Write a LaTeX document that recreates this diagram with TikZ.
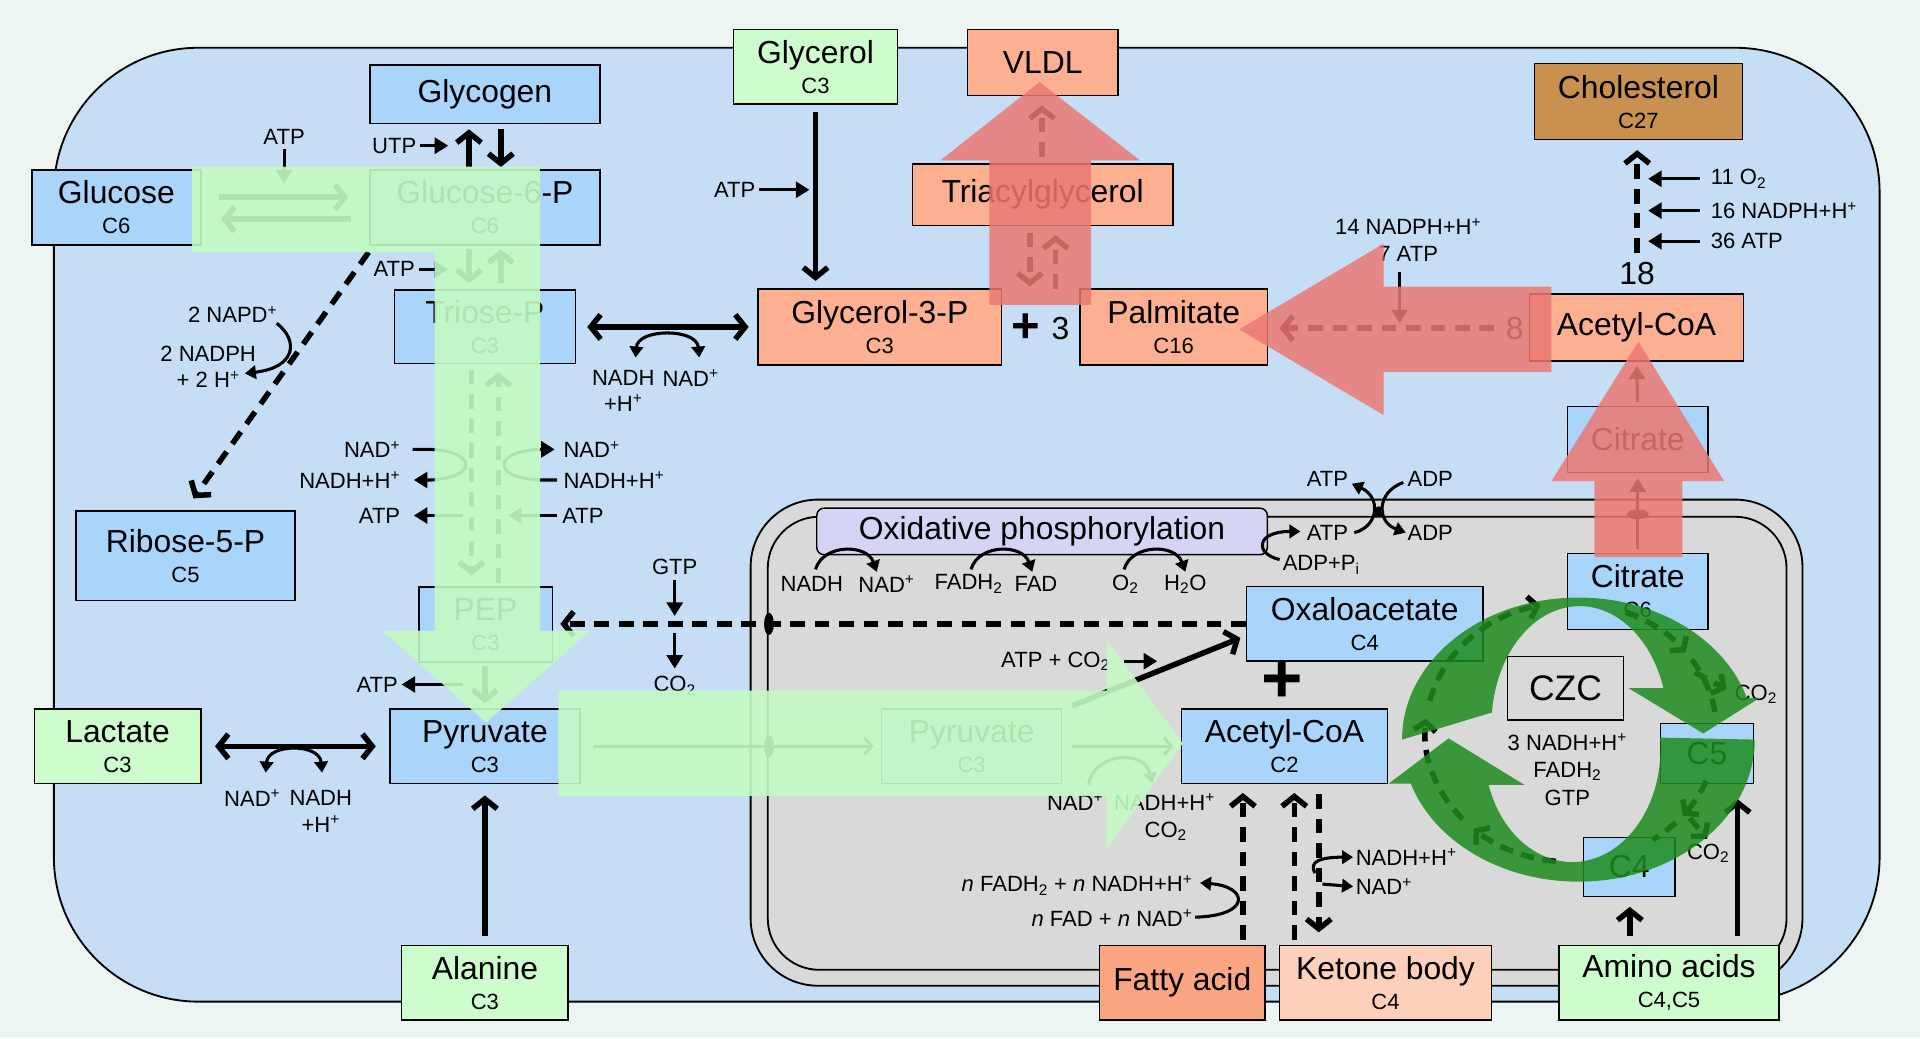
\documentclass[tikz,border=0pt]{standalone}
\usepackage{fontspec}
\setmainfont{Liberation Sans}
\usetikzlibrary{arrows.meta}
\definecolor{bgc}{RGB}{237,245,243}
\definecolor{cellc}{RGB}{197,221,245}
\definecolor{boxb}{RGB}{170,213,250}
\definecolor{boxg}{RGB}{205,252,205}
\definecolor{boxs}{RGB}{252,175,145}
\definecolor{boxf}{RGB}{250,165,130}
\definecolor{boxk}{RGB}{253,208,188}
\definecolor{boxc}{RGB}{200,145,80}
\definecolor{mitoc}{RGB}{217,217,217}
\definecolor{oxc}{RGB}{214,212,245}
\definecolor{ovg}{RGB}{196,250,196}
\definecolor{ovr}{RGB}{235,120,115}
\definecolor{tcag}{RGB}{30,140,30}
\newcommand\cn[1]{{\fontsize{18}{20}\selectfont #1}}
\newcommand\sps[1]{\textsuperscript{#1}}
\newcommand\sbs[1]{\textsubscript{#1}}
\tikzset{
  bx/.style={draw, line width=1.2pt, inner sep=0pt, align=center, font=\fontsize{26}{27}\selectfont},
  lbl/.style={inner sep=0pt, font=\fontsize{18}{20}\selectfont, align=center},
  tk/.style={line width=4.5pt, -{Straight Barb[length=8pt,width=20pt]}},
  tkk/.style={line width=4.5pt, {Straight Barb[length=8pt,width=20pt]}-{Straight Barb[length=8pt,width=20pt]}},
  md/.style={line width=2.5pt, -{Triangle[length=11pt,width=13pt]}},
  mdl/.style={line width=2.5pt},
  dsh/.style={dash pattern=on 12pt off 8pt},
  cv/.style={line width=2.5pt, -{Triangle[length=9pt,width=11pt]}},
  cyca/.style={line width=4.5pt, dash pattern=on 11pt off 7pt, -{Straight Barb[length=7pt,width=18pt]}},
  cycn/.style={line width=4.5pt, dash pattern=on 11pt off 7pt},
  ovgs/.style={fill=ovg, fill opacity=0.9},
  ovrs/.style={fill=ovr, fill opacity=0.85},
  tcas/.style={fill=tcag, fill opacity=0.85}
}
\newcommand\tcaseg[3][cyca]{\draw[#1] ([shift={(1283,598)}]#2:119 and 106) arc[start angle=#2,end angle=#3,x radius=119,y radius=106];}
\begin{document}
\begin{tikzpicture}[x=1pt,y=-1pt]
\useasboundingbox (0,0) rectangle (1568,848);
\fill[bgc] (0,0) rectangle (1568,848);
% cell and mitochondrion
\draw[fill=cellc,line width=1.5pt,rounded corners=118pt] (44,39) rectangle (1535,818);
\draw[fill=mitoc,line width=1.5pt,rounded corners=55pt] (613,408) rectangle (1472,805);
\draw[line width=1.5pt,rounded corners=42pt] (627,422) rectangle (1459,792);

% boxes
\node[bx,fill=boxb,minimum width=188pt,minimum height=48pt] (glycogen) at (396,77) {Glycogen};
\node[bx,fill=boxb,minimum width=138pt,minimum height=61pt] (glucose) at (95,169.5) {Glucose\\[-2.5pt]\cn{C6}};
\node[bx,fill=boxb,minimum width=188pt,minimum height=61pt] (g6p) at (396,169.5) {Glucose-6-P\\[-2.5pt]\cn{C6}};
\node[bx,fill=boxb,minimum width=148pt,minimum height=60pt] (triose) at (396,267) {Triose-P\\[-2.5pt]\cn{C3}};
\node[bx,fill=boxb,minimum width=179pt,minimum height=73pt] (ribose) at (151.5,454) {Ribose-5-P\\[-2.5pt]\cn{C5}};
\node[bx,fill=boxb,minimum width=109pt,minimum height=61pt] (pep) at (396.5,510) {PEP\\[-2.5pt]\cn{C3}};
\node[bx,fill=boxb,minimum width=155pt,minimum height=61pt] (pyr) at (396,609.5) {Pyruvate\\[-2.5pt]\cn{C3}};
\node[bx,fill=boxg,minimum width=136pt,minimum height=61pt] (lactate) at (96,609.5) {Lactate\\[-2.5pt]\cn{C3}};
\node[bx,fill=boxg,minimum width=136pt,minimum height=61pt] (alanine) at (396,802.5) {Alanine\\[-2.5pt]\cn{C3}};
\node[bx,fill=boxg,minimum width=134pt,minimum height=61pt] (glycerol) at (666,54.5) {Glycerol\\[-2.5pt]\cn{C3}};
\node[bx,fill=boxs,minimum width=123pt,minimum height=54pt] (vldl) at (851.5,51) {VLDL};
\node[bx,fill=boxs,minimum width=213pt,minimum height=50pt] (tag) at (851.5,159) {Triacylglycerol};
\node[bx,fill=boxs,minimum width=199pt,minimum height=62pt] (g3p) at (718.5,267) {Glycerol-3-P\\[-2.5pt]\cn{C3}};
\node[bx,fill=boxs,minimum width=153pt,minimum height=62pt] (palm) at (958.5,267) {Palmitate\\[-2.5pt]\cn{C16}};
\node[bx,fill=boxc,minimum width=170pt,minimum height=62pt] (chol) at (1338,83) {Cholesterol\\[-2.5pt]\cn{C27}};
\node[bx,fill=boxs,minimum width=175pt,minimum height=55pt] (accoa1) at (1336.5,267.5) {Acetyl-CoA};
\node[bx,fill=boxb,minimum width=115pt,minimum height=54pt] (cit1) at (1337.5,359) {Citrate};
\node[bx,fill=boxb,minimum width=115pt,minimum height=62pt] (cit2) at (1337.5,483) {Citrate\\[-2.5pt]\cn{C6}};
\node[bx,fill=oxc,rounded corners=6pt,minimum width=368pt,minimum height=38pt] (oxphos) at (851,434) {Oxidative phosphorylation};
\node[bx,fill=boxb,minimum width=193pt,minimum height=61pt] (oaa) at (1114.5,509.5) {Oxaloacetate\\[-2.5pt]\cn{C4}};
\node[bx,fill=boxb,minimum width=168pt,minimum height=61pt] (accoa2) at (1049,609.5) {Acetyl-CoA\\[-2.5pt]\cn{C2}};
\node[bx,fill=boxb,minimum width=147pt,minimum height=61pt] (pyr2) at (793.5,609.5) {Pyruvate\\[-2.5pt]\cn{C3}};
\node[bx,fill=mitoc,minimum width=95pt,minimum height=52pt,font=\fontsize{29}{30}\selectfont] (czc) at (1278.5,562) {CZC};
\node[bx,fill=boxb,minimum width=76pt,minimum height=49pt] (c5) at (1394,615.5) {C5};
\node[bx,fill=boxb,minimum width=75pt,minimum height=48pt] (c4) at (1330.5,708) {C4};
\node[bx,fill=boxf,minimum width=135pt,minimum height=61pt] (fa) at (965.5,802.5) {Fatty acid};
\node[bx,fill=boxk,minimum width=173pt,minimum height=61pt] (ketone) at (1131.5,802.5) {Ketone body\\[-2.5pt]\cn{C4}};
\node[bx,fill=boxg,minimum width=180pt,minimum height=61pt] (amino) at (1363,802.5) {Amino acids\\[-2.5pt]\cn{C4,C5}};

% glycogen
\draw[tk,shorten <=2pt,shorten >=4pt] (g6p.north -| 383,0) -- (glycogen.south -| 383,0);
\draw[tk,shorten <=4pt,shorten >=2pt] (glycogen.south -| 409,0) -- (g6p.north -| 409,0);
\node[lbl] (utp) at (322,119) {UTP};
\draw[md,shorten <=3pt] (utp.east) -- (366,119);
% glucose <-> G6P
\node[lbl] (atpA) at (232,112) {ATP};
\draw[md,shorten <=3pt] (atpA.south) -- (232,150);
\draw[tk,shorten <=14pt,shorten >=17pt] (glucose.east |- 0,161) -- (g6p.west |- 0,161);
\draw[tk,shorten <=15pt,shorten >=16pt] (g6p.west |- 0,179) -- (glucose.east |- 0,179);
% G6P -> triose
\node[lbl] (atpB) at (322,220) {ATP};
\draw[md,shorten <=3pt] (atpB.east) -- (366,220);
\draw[tk,shorten <=3pt,shorten >=5pt] (g6p.south -| 383,0) -- (triose.north -| 383,0);
\draw[tk,shorten <=5pt,shorten >=3pt] (triose.north -| 409,0) -- (g6p.south -| 409,0);
% ribose
\draw[tk,dsh] (301,206) -- (158,407);
\node[lbl] (napd) at (190,257) {2 NAPD\sps{+}};
\node[lbl] (nadph2) at (170,289) {2 NADPH};
\node[lbl] (h2) at (170,310) {+ 2 H\sps{+}};
\draw[cv] (226,264) .. controls (244,278) and (242,300) .. (200,305);
% triose <-> G3P
\draw[tkk,shorten <=9pt,shorten >=7pt] (triose) -- (g3p);
\draw[line width=2.5pt,{Triangle[length=9pt,width=11pt]}-{Triangle[length=9pt,width=11pt]}] (519,292) .. controls (521,268) and (569,268) .. (571,292);
\node[lbl] (tnadh) at (509,309) {NADH};
\node[lbl] (th) at (509,329) {+H\sps{+}};
\node[lbl] (tnad) at (564,309) {NAD\sps{+}};
% triose -> PEP (glycolysis/gluconeogenesis)
\draw[tk,dsh] (385,302) -- (385,470);
\draw[tk,dsh] (407,476) -- (407,304);
\node[lbl,anchor=east] (nadL) at (327,367) {NAD\sps{+}};
\node[lbl,anchor=east] (nadhL) at (327,392) {NADH+H\sps{+}};
\node[lbl,anchor=east] (atpL) at (327,421) {ATP};
\draw[md] (337,367) -- (352,367) .. controls (390,369) and (390,390) .. (352,392) -- (338,392);
\draw[md] (378,421) -- (338,421);
\node[lbl,anchor=west] (nadR) at (460,367) {NAD\sps{+}};
\node[lbl,anchor=west] (nadhR) at (460,392) {NADH+H\sps{+}};
\node[lbl,anchor=west] (atpR) at (459,421) {ATP};
\draw[md] (455,392) -- (440,392) .. controls (402,390) and (402,369) .. (440,367) -- (453,367);
\draw[md] (455,421) -- (415,421);
% PEP -> pyruvate
\draw[tk,shorten <=3pt,shorten >=4pt] (pep.south -| 396,0) -- (pyr.north -| 396,0);
\node[lbl] (atpP) at (308,559) {ATP};
\draw[md,shorten >=3pt] (378,559) -- (atpP.east);
% OAA -> PEP
\draw[tk,dsh,shorten >=6pt] (oaa.west) -- (pep.east |- oaa.west);
\node[lbl] (gtp) at (551,463) {GTP};
\draw[md] (551,474) -- (551,503);
\node[lbl] (co2a) at (551,560) {CO\sbs{2}};
\draw[md] (551,517) -- (551,546);
\fill (628,509.5) ellipse[x radius=4, y radius=9];
% lactate
\draw[tkk,shorten <=11pt,shorten >=11pt] (lactate) -- (pyr);
\draw[line width=2.5pt,{Triangle[length=9pt,width=11pt]}-{Triangle[length=9pt,width=11pt]}] (217,631) .. controls (219,607) and (261,607) .. (263,631);
\node[lbl] (lnad) at (206,652) {NAD\sps{+}};
\node[lbl] (lnadh) at (262,652) {NADH};
\node[lbl] (lh) at (262,673) {+H\sps{+}};
% alanine
\draw[tk,shorten <=7pt,shorten >=9pt] (alanine) -- (pyr);
% glycerol
\draw[tk,shorten <=6pt,shorten >=6pt] (glycerol.south) -- (g3p.north -| glycerol.south);
\node[lbl] (atpG) at (600,155) {ATP};
\draw[md,shorten <=3pt] (atpG.east) -- (661,155);
\node[font=\fontsize{40}{40}\selectfont\bfseries] (plus1) at (838,268) {+};
\node[font=\fontsize{26}{27}\selectfont] (three) at (866,268) {3};
% pyruvate into mitochondrion
\draw[line width=2.5pt,-{Straight Barb[length=6pt,width=14pt]},shorten <=10pt,shorten >=6pt] (pyr) -- (pyr2);
\fill (628,609.5) ellipse[x radius=4, y radius=9];
\draw[line width=2.5pt,-{Straight Barb[length=6pt,width=14pt]},shorten <=8pt,shorten >=6pt] (pyr2) -- (accoa2);
\draw[cv] (889,641) .. controls (893,614) and (935,612) .. (941,640);
\node[lbl] (pnad) at (878,655) {NAD\sps{+}};
\node[lbl] (pnadh) at (951,655) {NADH+H\sps{+}};
\node[lbl] (pco2) at (952,679) {CO\sbs{2}};
\draw[tk] (pyr2.north east) ++(8,-2) -- (1013,521);
\node[lbl] (atpco2) at (862,540) {ATP + CO\sbs{2}};
\draw[md] (918,540) -- (945,540);
\node[font=\fontsize{58}{58}\selectfont\bfseries] (plus2) at (1047,557) {+};
% oxidative phosphorylation
\node[lbl] (onadh) at (663,477) {NADH};
\node[lbl] (onad) at (724,477) {NAD\sps{+}};
\node[lbl] (ofadh) at (791,477) {FADH\sbs{2}};
\node[lbl] (ofad) at (846,477) {FAD};
\node[lbl] (oo2) at (919,477) {O\sbs{2}};
\node[lbl] (oh2o) at (968,477) {H\sbs{2}O};
\draw[cv] (666,465) .. controls (672,444) and (708,444) .. (716,467);
\draw[cv] (793,465) .. controls (799,444) and (835,444) .. (843,467);
\draw[cv] (918,465) .. controls (924,444) and (960,444) .. (968,467);
% ATP/ADP
\node[lbl] (atpu) at (1084,391) {ATP};
\node[lbl] (adpu) at (1168,391) {ADP};
\node[lbl] (atpd) at (1084,435) {ATP};
\node[lbl] (adpd) at (1168,435) {ADP};
\node[lbl] (adppi) at (1079,461) {ADP+P\sbs{i}};
\draw[cv] (1106,435) .. controls (1126,430) and (1128,406) .. (1104,395);
\draw[cv] (1146,394) .. controls (1124,402) and (1124,426) .. (1148,435);
\fill (1126,418) circle (4.5);
\draw[cv] (1045,457) .. controls (1024,452) and (1026,434) .. (1062,434);
% fatty acid, ketone body
\draw[tk,dsh,shorten <=4pt,shorten >=7pt] (fa.north -| 1015,0) -- (accoa2.south -| 1015,0);
\node[lbl,anchor=east] (nfadh) at (974,723) {\textit{n} FADH\sbs{2} + \textit{n} NADH+H\sps{+}};
\node[lbl,anchor=east] (nfad) at (974,750) {\textit{n} FAD + \textit{n} NAD\sps{+}};
\draw[cv] (976,749) .. controls (1022,748) and (1020,724) .. (980,721);
\draw[tk,dsh,shorten <=4pt,shorten >=7pt] (ketone.north -| 1057,0) -- (accoa2.south -| 1057,0);
\draw[tk,dsh,shorten <=8pt,shorten >=10pt] (accoa2.south -| 1077,0) -- (ketone.north -| 1077,0);
\node[lbl,anchor=west] (knadh) at (1107,700) {NADH+H\sps{+}};
\node[lbl,anchor=west] (knad) at (1107,724) {NAD\sps{+}};
\draw[cv] (1074,713) .. controls (1068,703) and (1080,700) .. (1105,700);
\draw[cv] (1080,722) -- (1105,724);
% amino acids
\draw[tk,shorten <=7pt,shorten >=8pt] (amino.north -| 1331,0) -- (c4.south -| 1331,0);
\draw[tk,shorten <=7pt,shorten >=12pt] (amino.north -| 1419,0) -- (c5.south -| 1419,0);
% cholesterol
\node[font=\fontsize{26}{27}\selectfont] (n18) at (1337,223) {18};
\draw[tk,dsh,shorten <=4pt,shorten >=8pt] (n18.north) -- (chol.south -| n18.north);
\node[lbl,anchor=west] (o2) at (1397,146) {11 O\sbs{2}};
\node[lbl,anchor=west] (nadph16) at (1397,172) {16 NADPH+H\sps{+}};
\node[lbl,anchor=west] (atp36) at (1397,197) {36 ATP};
\draw[md] (1388,146) -- (1346,146);
\draw[md] (1388,172) -- (1346,172);
\draw[md] (1388,197) -- (1346,197);
% fatty acid synthesis (under red arrow)
\node[font=\fontsize{26}{27}\selectfont] (n8) at (1237,268) {8};
\draw[tk,dsh] (n8.west) ++(-6,0) -- (1045,268);
\node[lbl] (n14) at (1150,185) {14 NADPH+H\sps{+}};
\node[lbl] (atp7) at (1150,207) {7 ATP};
\draw[md] (1143,222) -- (1143,264);
% TAG and VLDL (under red arrow)
\draw[tk,dsh] (841,190) -- (841,234);
\draw[tk,dsh] (862,236) -- (862,192);
\draw[tk,dsh] (851,128) -- (851,86);
% citrate export (under red arrow)
\draw[md,shorten <=3pt,shorten >=4pt] (cit2.north) -- (cit1.south);
\fill (1337.5,420) ellipse[x radius=9, y radius=4];
\draw[md,shorten <=3pt,shorten >=3pt] (cit1.north) -- (accoa1.south);
% TCA cycle labels and dashed arrows
\node[lbl] (cz1) at (1280,606) {3 NADH+H\sps{+}};
\node[lbl] (cz2) at (1280,630) {FADH\sbs{2}};
\node[lbl] (cz3) at (1280,652) {GTP};
\node[lbl] (co2b) at (1434,567) {CO\sbs{2}};
\node[lbl] (co2c) at (1395,697) {CO\sbs{2}};
\tcaseg{96}{132}
\tcaseg{138}{186}
\tcaseg{194}{258}
\tcaseg{292}{322}
\tcaseg[cycn]{326}{354}
\tcaseg{22}{40}
\tcaseg[cycn]{44}{56}
\draw[cyca] (1384,549) -- (1410,563);
\draw[cyca] (1380,668) -- (1394,685);

% overlays
\fill[ovgs] (157,136) -- (441,136) -- (441,515) -- (482,515) -- (397,590) -- (312,515) -- (355,515) -- (355,206) -- (157,206) -- cycle;
\fill[ovgs] (456,564) -- (904,564) -- (904,523) -- (966,607) -- (904,693) -- (904,650) -- (456,650) -- cycle;
\fill[ovrs] (1267,234) -- (1130,234) -- (1130,199) -- (1012,269) -- (1130,339) -- (1130,304) -- (1267,304) -- cycle;
\fill[ovrs] (808,249) -- (808,131) -- (768,131) -- (849,67) -- (931,131) -- (891,131) -- (891,249) -- cycle;
\fill[ovrs] (1302,455) -- (1302,393) -- (1267,393) -- (1338,279) -- (1408,393) -- (1374,393) -- (1374,455) -- cycle;
\fill[tcas] (1145,604) arc[start angle=180,end angle=343,x radius=144,y radius=116] -- (1437,570) -- (1391,599) -- (1330,562) -- ([shift={(1290,592)}]342:72 and 97) arc[start angle=342,end angle=186,x radius=72,y radius=97] -- cycle;
\fill[tcas] (1433,604) arc[start angle=0,end angle=162,x radius=144,y radius=116] -- (1134,640) -- (1183,603) -- (1245,641) -- ([shift={(1284,612)}]161.6:72 and 92) arc[start angle=161.6,end angle=-6,x radius=72,y radius=92] -- cycle;
\end{tikzpicture}
\end{document}
